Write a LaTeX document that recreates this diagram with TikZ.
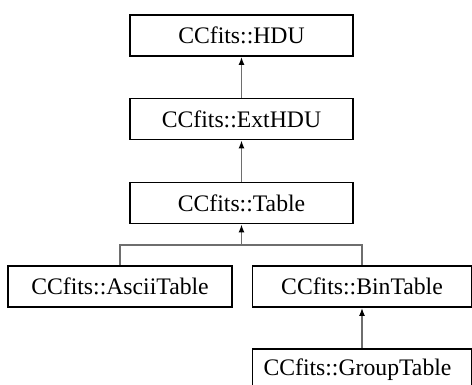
\documentclass[tikz,border=0pt]{standalone}
\usepackage{fontspec}
\setmainfont{Liberation Serif}
\usetikzlibrary{arrows.meta}
\definecolor{conngray}{RGB}{110,110,110}
\tikzset{
  cls/.style={draw=black, line width=1.8pt, fill=white, inner sep=0pt,
    minimum height=41pt, font=\fontsize{23.7}{28}\selectfont},
  conn/.style={draw=conngray, line width=1.5pt},
  inh/.style={conn, -{Latex[length=8pt,width=6pt,color=black]}}
}
\begin{document}
\begin{tikzpicture}[x=1pt,y=-1pt]
\clip (0,0) rectangle (472,385);
\useasboundingbox (0,0) rectangle (472,385);
\fill[white] (0,0) rectangle (472,385);
\node[cls, minimum width=223pt] (hdu) at (241.5,35.5) {CCfits::HDU};
\node[cls, minimum width=223pt] (ext) at (241.5,119) {CCfits::ExtHDU};
\node[cls, minimum width=223pt] (table) at (241.5,203) {CCfits::Table};
\node[cls, minimum width=224pt] (ascii) at (120,286.5) {CCfits::AsciiTable};
\node[cls, minimum width=219pt] (bin) at (362,286.5) {CCfits::BinTable};
\node[cls, minimum width=219pt, text width=219pt, align=left, inner xsep=0pt] (group) at (362,369.5) {\hspace*{11pt}CCfits::GroupTable};
\coordinate (jn) at (241.5,245);
\draw[inh] (ext.north) -- (hdu.south);
\draw[inh] (table.north) -- (ext.south);
\draw[conn] (ascii.north) |- (jn);
\draw[conn] (bin.north) |- (jn);
\draw[inh] (jn) -- (table.south);
\draw[inh] (group.north) -- (bin.south);
\end{tikzpicture}
\end{document}
